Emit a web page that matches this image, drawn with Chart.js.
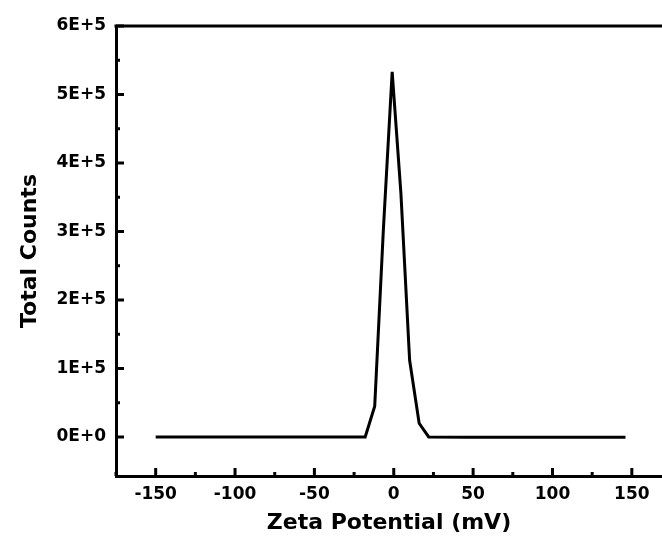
<!DOCTYPE html>
<html>
<head>
<meta charset="utf-8">
<script src="https://cdn.jsdelivr.net/npm/chart.js@4"></script>
<style>
  html, body { margin: 0; padding: 0; background: #fff; overflow: hidden; }
  #wrap { width: 662px; height: 540px; }
</style>
</head>
<body>
<div id="wrap"><canvas id="myChart"></canvas></div>
<script>
// zeta potential distribution
const zeta = [-150, -18, -12, -6.5, -1, 4.5, 10, 16, 22, 45, 146];
const counts = [0, 0, 45000, 305000, 533000, 356000, 112000, 20000, 0, -600, -600];

const xTicks = [-150, -100, -50, 0, 50, 100, 150];
const xMinor = [-175, -125, -75, -25, 25, 75, 125, 175];
const yTicks = [0, 100000, 200000, 300000, 400000, 500000, 600000];
const yMinor = [50000, 150000, 250000, 350000, 450000, 550000];

const tickFont = { family: 'DejaVu Sans', weight: 'bold', size: 17 };
const titleFont = { family: 'DejaVu Sans', weight: 'bold', size: 22 };

function sciLabel(v) {
  if (v === 0) return '0E+0';
  const e = Math.floor(Math.log10(Math.abs(v)));
  return Math.round(v / Math.pow(10, e)) + 'E+' + e;
}

// ticks pointing into the plot, plus the top frame line
const frame = {
  id: 'frame',
  afterDraw(chart) {
    const { ctx, chartArea: a, scales } = chart;
    ctx.save();
    ctx.strokeStyle = '#000';
    ctx.lineWidth = 3;
    ctx.beginPath();
    ctx.moveTo(a.left - 1.5, a.top);
    ctx.lineTo(a.right, a.top);
    ctx.stroke();
    ctx.lineWidth = 3;
    ctx.beginPath();
    xTicks.forEach(v => {
      const px = scales.x.getPixelForValue(v);
      ctx.moveTo(px, a.bottom); ctx.lineTo(px, a.bottom - 8);
    });
    xMinor.forEach(v => {
      const px = scales.x.getPixelForValue(v);
      if (px < a.left || px > a.right) return;
      ctx.moveTo(px, a.bottom); ctx.lineTo(px, a.bottom - 4);
    });
    yTicks.forEach(v => {
      const py = scales.y.getPixelForValue(v);
      ctx.moveTo(a.left, py); ctx.lineTo(a.left + 8, py);
    });
    yMinor.forEach(v => {
      const py = scales.y.getPixelForValue(v);
      ctx.moveTo(a.left, py); ctx.lineTo(a.left + 4, py);
    });
    ctx.stroke();
    ctx.restore();
  }
};

const config = {
  type: 'line',
  data: {
    datasets: [{
      data: zeta.map((x, i) => ({ x: x, y: counts[i] })),
      borderColor: '#000',
      borderWidth: 3,
      pointRadius: 0,
      fill: false,
      tension: 0
    }]
  },
  options: {
    responsive: true,
    maintainAspectRatio: false,
    animation: false,
    layout: { padding: { left: 13, top: 26, right: 0, bottom: 0 } },
    plugins: {
      legend: { display: false },
      tooltip: { enabled: false }
    },
    scales: {
      x: {
        type: 'linear',
        min: -175,
        max: 169,
        afterBuildTicks: s => { s.ticks = xTicks.map(v => ({ value: v })); },
        afterFit: s => { s.height = 64; },
        grid: { display: true, drawOnChartArea: false, drawTicks: false },
        border: { display: true, color: '#000', width: 3 },
        ticks: { color: '#000', font: tickFont, padding: 8, maxRotation: 0 },
        title: { display: true, text: 'Zeta Potential (mV)', color: '#000', font: titleFont, padding: { top: 4, bottom: 4 } }
      },
      y: {
        type: 'linear',
        min: -57000,
        max: 600000,
        afterBuildTicks: s => { s.ticks = yTicks.map(v => ({ value: v })); },
        afterFit: s => { s.width = 103; },
        grid: { display: true, drawOnChartArea: false, drawTicks: false },
        border: { display: true, color: '#000', width: 3 },
        ticks: { color: '#000', font: tickFont, padding: 10, callback: v => sciLabel(v) },
        title: { display: true, text: 'Total Counts', color: '#000', font: titleFont, padding: { top: 4, bottom: 4 } }
      }
    }
  },
  plugins: [frame]
};

const myChart = new Chart(document.getElementById('myChart'), config);
</script>
</body>
</html>
